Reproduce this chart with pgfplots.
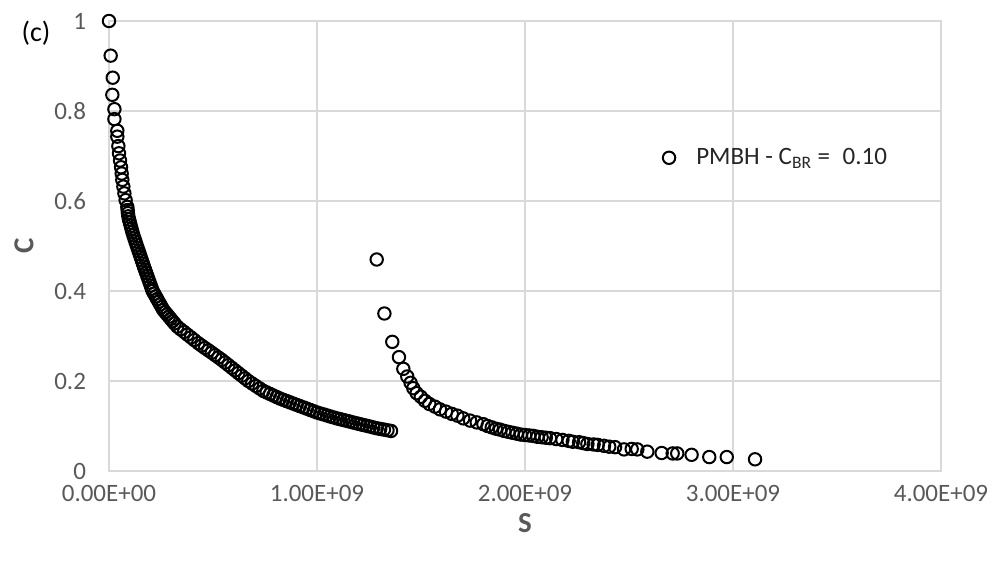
\documentclass[border=0pt]{standalone}
\usepackage{pgfplots}
\pgfplotsset{compat=1.18}
\usepackage{pgfplotstable}
\usepackage{fontspec}
\setmainfont{Carlito}
\definecolor{gridc}{RGB}{217,217,217}
\definecolor{txt}{RGB}{89,89,89}
\definecolor{legtxt}{RGB}{38,38,38}

% S in units of 1e9
\pgfplotstableread{
S C
0 1.000
0.008 0.923
0.018 0.874
0.016 0.836
0.026 0.804
0.026 0.782
0.040 0.756
0.040 0.743
0.045 0.722
0.048 0.706
0.053 0.690
0.058 0.675
0.061 0.661
0.064 0.647
0.069 0.632
0.074 0.617
0.080 0.602
0.088 0.587
0.0896 0.580
0.091 0.573
0.093 0.566
0.0964 0.559
0.1004 0.552
0.1044 0.545
0.1083 0.538
0.1123 0.531
0.1169 0.524
0.122 0.517
0.127 0.510
0.132 0.503
0.137 0.496
0.1425 0.489
0.1476 0.482
0.1527 0.475
0.1578 0.468
0.163 0.461
0.168 0.454
0.1734 0.447
0.1789 0.440
0.1843 0.433
0.1898 0.426
0.1952 0.419
0.2007 0.412
0.2061 0.405
0.210 0.400
0.2173 0.394
0.2246 0.388
0.2319 0.382
0.2391 0.376
0.2464 0.370
0.2537 0.364
0.261 0.358
0.270 0.353
0.279 0.348
0.288 0.343
0.297 0.338
0.306 0.333
0.315 0.328
0.328 0.321
0.344 0.315
0.361 0.309
0.377 0.303
0.394 0.297
0.410 0.291
0.429 0.284
0.445 0.2787
0.461 0.2734
0.478 0.2681
0.494 0.2629
0.510 0.2576
0.526 0.2523
0.542 0.247
0.558 0.2411
0.574 0.2353
0.590 0.2294
0.606 0.2235
0.622 0.2176
0.638 0.2118
0.654 0.2059
0.670 0.200
0.688 0.1945
0.706 0.189
0.724 0.1835
0.742 0.178
0.758 0.1746
0.774 0.1712
0.790 0.1678
0.806 0.1644
0.822 0.161
0.838 0.1582
0.854 0.1554
0.870 0.1526
0.886 0.1498
0.902 0.147
0.918 0.1442
0.935 0.1413
0.951 0.1385
0.967 0.1357
0.984 0.1328
1.000 0.130
1.016 0.1278
1.032 0.1257
1.048 0.1235
1.063 0.1213
1.079 0.1192
1.095 0.117
1.111 0.1152
1.127 0.1133
1.143 0.1115
1.158 0.1097
1.174 0.1078
1.190 0.106
1.206 0.1042
1.222 0.1023
1.239 0.1005
1.255 0.0987
1.271 0.0968
1.287 0.095
1.304 0.0935
1.322 0.092
1.339 0.0905
1.356 0.089
1.287 0.470
1.324 0.350
1.362 0.287
1.394 0.253
1.415 0.227
1.434 0.210
1.450 0.196
1.463 0.184
1.479 0.173
1.499 0.165
1.519 0.156
1.540 0.149
1.567 0.143
1.591 0.137
1.620 0.132
1.648 0.127
1.675 0.123
1.703 0.117
1.736 0.112
1.768 0.108
1.800 0.104
1.820 0.100
1.840 0.097
1.860 0.094
1.880 0.092
1.900 0.089
1.920 0.087
1.940 0.085
1.960 0.083
1.980 0.081
2.000 0.080
2.020 0.079
2.040 0.078
2.060 0.076
2.080 0.075
2.100 0.074
2.120 0.073
2.150 0.071
2.180 0.069
2.210 0.067
2.230 0.065
2.260 0.064
2.280 0.062
2.300 0.060
2.330 0.059
2.350 0.058
2.380 0.056
2.405 0.054
2.433 0.053
2.476 0.048
2.513 0.049
2.540 0.048
2.588 0.043
2.657 0.040
2.710 0.039
2.732 0.039
2.801 0.036
2.886 0.031
2.970 0.031
3.106 0.026
}\datatable

\begin{document}
\begin{tikzpicture}
\useasboundingbox (-54.5pt,-48.5pt) rectangle (444pt,235.5pt);
\begin{axis}[
  at={(0,0)}, anchor=south west,
  scale only axis, width=416pt, height=225pt,
  xmin=0, xmax=4, ymin=0, ymax=1,
  xtick={0,1,2,3,4},
  xticklabels={0.00E+00,1.00E+09,2.00E+09,3.00E+09,4.00E+09},
  ytick={0,0.2,0.4,0.6,0.8,1},
  yticklabels={0,0.2,0.4,0.6,0.8,1},
  major tick length=0pt,
  grid=major,
  grid style={gridc, line width=0.9pt},
  axis line style={gridc, line width=0.9pt},
  tick label style={font=\fontsize{12.5}{14}\selectfont, text=txt},
  yticklabel style={xshift=-8pt},
  xticklabel style={yshift=-3.5pt},
  xlabel={S}, ylabel={C},
  every axis x label/.style={at={([yshift=-26pt]axis description cs:0.5,0)}, anchor=center, font=\bfseries\fontsize{14.5}{16}\selectfont, text=txt},
  every axis y label/.style={at={([xshift=-42.5pt]axis description cs:0,0.5)}, anchor=center, rotate=90, font=\bfseries\fontsize{14.5}{16}\selectfont, text=txt},
  legend style={draw=none, fill=none, at={(axis description cs:0.658,0.696)}, anchor=west, font=\fontsize{12.5}{14}\selectfont, text=legtxt},
  clip=false,
]
\addplot[only marks, mark=o, mark size=3.1pt, mark options={line width=1pt, draw=black}] table[x=S, y=C] {\datatable};
\addlegendentry{\hspace{8.5pt}PMBH - C\textsubscript{BR} =\enspace 0.10}
\node[font=\fontsize{14}{16}\selectfont, text=black] at ([xshift=-36.5pt,yshift=-6pt]axis description cs:0,1) {(c)};
\end{axis}
\end{tikzpicture}
\end{document}
